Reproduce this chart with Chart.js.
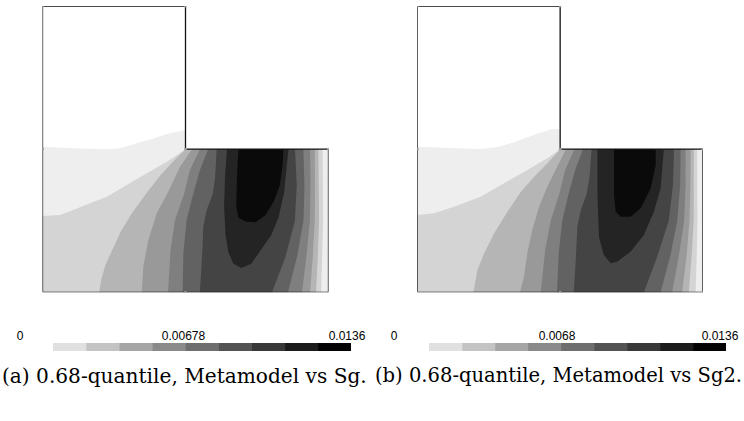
<!DOCTYPE html>
<html>
<head>
<meta charset="utf-8">
<script src="https://cdn.jsdelivr.net/npm/chart.js@4.4.1/dist/chart.umd.min.js"></script>
<style>
  html, body { margin:0; padding:0; background:#ffffff; }
  #root { position:relative; width:744px; height:421px; overflow:hidden; background:#fff; }
  .abs { position:absolute; }
  .tick { position:absolute; font-family:"Liberation Sans", Arial, sans-serif; font-size:12px; line-height:12px; color:#000000; white-space:nowrap; transform:translateX(-50%); }
  .cap { position:absolute; font-family:"DejaVu Serif", serif; font-size:15px; line-height:20px; color:#000; white-space:nowrap; }
</style>
</head>
<body>
<div id="root">
  <canvas id="fieldA" class="abs" style="left:0px;top:0px" width="372" height="300"></canvas>
  <canvas id="fieldB" class="abs" style="left:372px;top:0px" width="372" height="300"></canvas>
  <canvas id="barA" class="abs" style="left:53px;top:343px" width="298" height="8"></canvas>
  <canvas id="barB" class="abs" style="left:429px;top:343px" width="297" height="8"></canvas>
  <div id="ticksA"></div>
  <div id="ticksB"></div>
  <div id="capA" class="cap" style="left:2px;top:366px"></div>
  <div id="capB" class="cap" style="left:375px;top:366px"></div>
</div>
<script>
// ================= DATA (domain coordinates: L-shape, x 0..2, y 0..2) =================
const domainOutline = [[0,0],[2,0],[2,1],[1,1],[1,2],[0,2],[0,0]];
const meshVertices  = [[0,0],[1,0],[2,0],[2,1],[1,1],[1,2],[0,2],[0,1]];

const colorbarEdges = [0, 0.00151, 0.00302, 0.00453, 0.00604, 0.00756, 0.00907, 0.01058, 0.01209, 0.0136];
const ticksA = ['0', '0.00678', '0.0136'];
const ticksB = ['0', '0.0068', '0.0136'];
const captionA = '(a) 0.68-quantile, Metamodel vs Sg.';
const captionB = '(b) 0.68-quantile, Metamodel vs Sg2.';

// ---- panel (a): contour lines ----
const aTopEdge = [[0,1.017],[0.215,1.006],[0.449,0.999],[0.542,1.006],[0.659,1.041],[0.775,1.075],[0.868,1.105],[1,1.133]];
const aLeft1 = [[1,1],[0.869,0.912],[0.729,0.831],[0.589,0.749],[0.449,0.668],[0.332,0.622],[0.215,0.575],[0.122,0.540],[0,0.533]];
const aLeft2 = [[1,1],[0.915,0.915],[0.822,0.815],[0.725,0.691],[0.625,0.552],[0.545,0.42],[0.49,0.3],[0.44,0.19],[0.41,0.086],[0.397,0]];
const aLeft3 = [[1.045,1],[0.962,0.877],[0.878,0.701],[0.799,0.552],[0.74,0.365],[0.705,0.179],[0.694,0]];
const aLeft4 = [[1.101,1],[1.031,0.855],[0.99,0.687],[0.927,0.505],[0.895,0.296],[0.878,0]];
const aLeft5 = [[1.159,1],[1.101,0.855],[1.055,0.691],[1.008,0.505],[0.985,0.272],[0.98,0]];
const aLeft6 = [[1.218,1],[1.207,0.8],[1.19,0.685],[1.148,0.575],[1.124,0.456],[1.12,0.337],[1.11,0.15],[1.10,0]];
const aRight1 = [[1.959,1],[1.961,0.75],[1.962,0.5],[1.956,0.25],[1.948,0]];
const aRight2 = [[1.929,1],[1.932,0.75],[1.934,0.5],[1.925,0.25],[1.913,0]];
const aRight3 = [[1.904,1],[1.906,0.75],[1.904,0.5],[1.89,0.25],[1.871,0]];
const aRight4 = [[1.871,1],[1.874,0.75],[1.87,0.5],[1.845,0.25],[1.815,0]];
const aRight5 = [[1.824,1],[1.832,0.75],[1.825,0.5],[1.78,0.25],[1.717,0]];
const aRight6 = [[1.766,1],[1.778,0.75],[1.765,0.5],[1.7,0.25],[1.605,0]];
const aLoop7 = [[1.29,1],[1.276,0.8],[1.27,0.6],[1.28,0.4],[1.30,0.28],[1.335,0.2],[1.39,0.17],[1.46,0.2],[1.53,0.3],[1.6,0.4],[1.65,0.52],[1.69,0.7],[1.72,1]];
const aLoop8 = [[1.37,1],[1.36,0.8],[1.355,0.6],[1.37,0.52],[1.42,0.495],[1.49,0.49],[1.56,0.54],[1.62,0.64],[1.66,0.75],[1.68,0.9],[1.684,1]];

// ---- panel (b) ----
const bTopEdge = [[0,1.017],[0.266,1.006],[0.453,1.001],[0.57,1.017],[0.686,1.052],[0.849,1.111],[0.942,1.139],[1,1.139]];
const bLeft1 = [[1,1],[0.91,0.937],[0.77,0.855],[0.607,0.761],[0.443,0.668],[0.257,0.598],[0.117,0.552],[0,0.54]];
const bLeft2 = [[1,1],[0.911,0.901],[0.818,0.807],[0.725,0.703],[0.631,0.563],[0.538,0.412],[0.468,0.272],[0.421,0.156],[0.392,0]];
const bLeft3 = [[1.04,1],[0.97,0.86],[0.91,0.738],[0.852,0.598],[0.805,0.435],[0.77,0.272],[0.747,0.109],[0.719,0]];
const bLeft4 = [[1.10,1],[1.035,0.855],[0.995,0.69],[0.935,0.505],[0.895,0.296],[0.864,0]];
const bLeft5 = [[1.16,1],[1.105,0.855],[1.06,0.69],[1.015,0.505],[0.99,0.272],[0.978,0]];
const bLeft6 = [[1.22,1],[1.205,0.8],[1.185,0.685],[1.145,0.575],[1.12,0.456],[1.115,0.337],[1.105,0.15],[1.095,0]];
const bRight1 = [[1.959,1],[1.961,0.75],[1.962,0.5],[1.956,0.25],[1.948,0]];
const bRight2 = [[1.936,1],[1.936,0.75],[1.934,0.5],[1.92,0.25],[1.901,0]];
const bRight3 = [[1.913,1],[1.912,0.75],[1.905,0.5],[1.885,0.25],[1.854,0]];
const bRight4 = [[1.878,1],[1.878,0.75],[1.868,0.5],[1.83,0.25],[1.784,0]];
const bRight5 = [[1.843,1],[1.84,0.75],[1.82,0.5],[1.77,0.25],[1.703,0]];
const bRight6 = [[1.797,1],[1.79,0.75],[1.76,0.5],[1.68,0.25],[1.586,0]];
const bLoop7 = [[1.261,1],[1.261,0.687],[1.272,0.384],[1.306,0.26],[1.353,0.203],[1.399,0.214],[1.493,0.284],[1.586,0.4],[1.656,0.563],[1.703,0.726],[1.726,1]];
const bLoop8 = [[1.377,1],[1.377,0.68],[1.389,0.563],[1.424,0.528],[1.494,0.528],[1.564,0.587],[1.634,0.726],[1.669,0.889],[1.669,1]];

// ================= STYLE =================
const fieldColors = ['#eeeeee','#d4d4d4','#b5b5b5','#999999','#7f7f7f','#626262','#444444','#242424','#0a0a0a'];
const colorbarColors = ['#e0e0e0','#c3c3c3','#a6a6a6','#8a8a8a','#6e6e6e','#535353','#383838','#1c1c1c','#030303'];

// ================= BUILD =================
function superlevelPolys(top, lefts, rights, loops) {
  const polys = [];
  polys.push([[0,0],[2,0],[2,1],[1,1]].concat(top.slice().reverse()));
  for (let k = 0; k < lefts.length; k++) {
    const L = lefts[k].slice().reverse();
    if (L[0][1] > 0) L.unshift([L[0][0], 0]);
    polys.push(L.concat(rights[k]));
  }
  loops.forEach(l => polys.push(l.slice()));
  return polys;
}
const toXY = arr => arr.map(p => ({x: p[0], y: p[1]}));

function makeField(id, polys, pad) {
  const datasets = polys.map((poly, k) => ({
    data: toXY(poly),
    showLine: true,
    fill: 'shape',
    backgroundColor: fieldColors[k],
    borderWidth: 0,
    pointRadius: 0,
    tension: 0,
    order: 100 - k
  }));
  datasets.push({
    data: toXY(domainOutline), showLine: true, fill: false,
    borderColor: '#111111', borderWidth: 1.3, pointRadius: 0, tension: 0, order: 1
  });
  datasets.push({
    data: toXY(meshVertices), showLine: false,
    pointRadius: 1.4, pointBackgroundColor: '#a0a0a0', pointBorderWidth: 0, order: 0
  });
  return new Chart(document.getElementById(id), {
    type: 'scatter',
    data: { datasets },
    options: {
      responsive: false, animation: false, events: [], devicePixelRatio: 1,
      layout: { padding: pad },
      plugins: { legend: { display: false }, tooltip: { enabled: false } },
      scales: {
        x: { type: 'linear', min: 0, max: 2, display: false },
        y: { type: 'linear', min: 0, max: 2, display: false }
      }
    }
  });
}

function makeColorbar(id) {
  return new Chart(document.getElementById(id), {
    type: 'bar',
    data: {
      labels: ['colorbar'],
      datasets: colorbarColors.map((c, i) => ({
        data: [[colorbarEdges[i], colorbarEdges[i + 1]]],
        backgroundColor: c, borderWidth: 0, borderSkipped: false,
        barPercentage: 1, categoryPercentage: 1, grouped: false
      }))
    },
    options: {
      indexAxis: 'y', responsive: false, animation: false, events: [], devicePixelRatio: 1,
      layout: { padding: 0 },
      plugins: { legend: { display: false }, tooltip: { enabled: false } },
      scales: {
        x: { type: 'linear', min: colorbarEdges[0], max: colorbarEdges[colorbarEdges.length - 1], display: false },
        y: { display: false }
      }
    }
  });
}

makeField('fieldA',
  superlevelPolys(aTopEdge, [aLeft1,aLeft2,aLeft3,aLeft4,aLeft5,aLeft6], [aRight1,aRight2,aRight3,aRight4,aRight5,aRight6], [aLoop7,aLoop8]),
  { left: 42.5, right: 43.5, top: 6, bottom: 7.7 });
makeField('fieldB',
  superlevelPolys(bTopEdge, [bLeft1,bLeft2,bLeft3,bLeft4,bLeft5,bLeft6], [bRight1,bRight2,bRight3,bRight4,bRight5,bRight6], [bLoop7,bLoop8]),
  { left: 45.3, right: 41, top: 6, bottom: 7.7 });
makeColorbar('barA');
makeColorbar('barB');

function placeTicks(containerId, labels, x0, x1, top) {
  const c = document.getElementById(containerId);
  labels.forEach((t, i) => {
    const s = document.createElement('div');
    s.className = 'tick';
    s.textContent = t;
    s.style.left = (x0 + (x1 - x0) * i / (labels.length - 1)) + 'px';
    s.style.top = top + 'px';
    c.appendChild(s);
  });
}
placeTicks('ticksA', ticksA, 20, 347, 330);
placeTicks('ticksB', ticksB, 394, 720, 330);

function fitCaption(id, text, width) {
  const el = document.getElementById(id);
  el.textContent = text;
  const w = el.getBoundingClientRect().width;
  el.style.fontSize = (15 * width / w).toFixed(2) + 'px';
}
fitCaption('capA', captionA, 365);
fitCaption('capB', captionB, 367);
</script>
</body>
</html>
